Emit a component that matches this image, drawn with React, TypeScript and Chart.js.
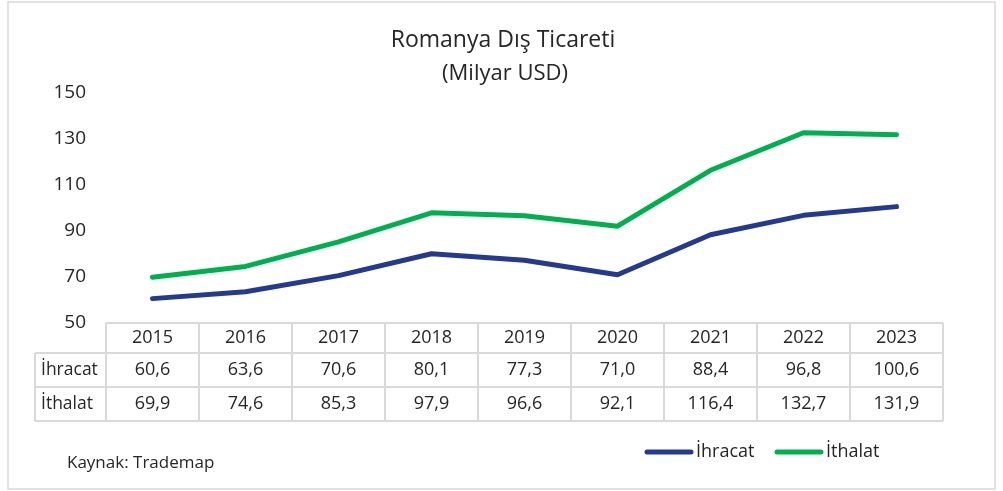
import React, { useEffect, useRef } from "react";
import { Chart, registerables } from "chart.js";

Chart.register(...registerables);

const years = ["2015", "2016", "2017", "2018", "2019", "2020", "2021", "2022", "2023"];
const ihracat = [60.6, 63.6, 70.6, 80.1, 77.3, 71.0, 88.4, 96.8, 100.6];
const ithalat = [69.9, 74.6, 85.3, 97.9, 96.6, 92.1, 116.4, 132.7, 131.9];
const seriesNames = ["İhracat", "İthalat"];
const seriesColors = ["#25398F", "#00B04F"];
const titleText = "Romanya Dış Ticareti";
const subtitleText = "(Milyar USD)";
const sourceText = "Kaynak: Trademap";
const yMin = 50;
const yMax = 150;
const yStep = 20;

const FONT = "'Open Sans', sans-serif";
const TEXT = "#262626";
const GRID = "#D9D9D9";

const fmt = (v: number) => v.toFixed(1).replace(".", ",");

const decorPlugin = {
  id: "decor",
  beforeDraw(chart: any) {
    const ctx = chart.ctx;
    ctx.save();
    ctx.fillStyle = "#ffffff";
    ctx.fillRect(0, 0, chart.width, chart.height);
    ctx.strokeStyle = GRID;
    ctx.lineWidth = 1.5;
    ctx.strokeRect(8, 2, 987, 487);
    ctx.restore();
  },
  afterDraw(chart: any) {
    const ctx = chart.ctx;
    const xs = chart.scales.x;
    const area = chart.chartArea;
    ctx.save();
    // title
    ctx.fillStyle = TEXT;
    ctx.textAlign = "center";
    ctx.textBaseline = "alphabetic";
    ctx.font = `23px ${FONT}`;
    ctx.fillText(titleText, 503, 47);
    ctx.font = `22px ${FONT}`;
    ctx.fillText(subtitleText, 505, 80);

    // table
    const colW = (area.right - area.left) / years.length;
    const rows = [area.bottom, 353, 387, 421];
    const headLeft = 35;
    ctx.strokeStyle = GRID;
    ctx.lineWidth = 2;
    ctx.beginPath();
    ctx.moveTo(area.left, rows[0]);
    ctx.lineTo(area.right, rows[0]);
    for (let i = 1; i < rows.length; i++) {
      ctx.moveTo(headLeft, rows[i]);
      ctx.lineTo(area.right, rows[i]);
    }
    ctx.moveTo(headLeft, rows[1]);
    ctx.lineTo(headLeft, rows[3]);
    for (let i = 0; i <= years.length; i++) {
      const x = area.left + i * colW;
      ctx.moveTo(x, rows[0]);
      ctx.lineTo(x, rows[3]);
    }
    ctx.stroke();

    ctx.fillStyle = TEXT;
    ctx.font = `18px ${FONT}`;
    ctx.textBaseline = "middle";
    ctx.textAlign = "center";
    const data = [ihracat, ithalat];
    years.forEach((y, i) => {
      const cx = xs.getPixelForValue(i);
      ctx.fillText(y, cx, (rows[0] + rows[1]) / 2);
      ctx.fillText(fmt(data[0][i]), cx, (rows[1] + rows[2]) / 2);
      ctx.fillText(fmt(data[1][i]), cx, (rows[2] + rows[3]) / 2);
    });
    ctx.textAlign = "left";
    ctx.font = `17.5px ${FONT}`;
    ctx.fillText(seriesNames[0], 41, (rows[1] + rows[2]) / 2);
    ctx.fillText(seriesNames[1], 41, (rows[2] + rows[3]) / 2);

    // source
    ctx.font = `17px ${FONT}`;
    ctx.textBaseline = "alphabetic";
    ctx.fillText(sourceText, 67, 468);

    // legend
    const legendY = 452;
    const legendX = [645, 775];
    ctx.font = `18px ${FONT}`;
    seriesNames.forEach((name, i) => {
      ctx.strokeStyle = seriesColors[i];
      ctx.lineWidth = 5;
      ctx.lineCap = "round";
      ctx.beginPath();
      ctx.moveTo(legendX[i] + 2, legendY);
      ctx.lineTo(legendX[i] + 46, legendY);
      ctx.stroke();
      ctx.fillStyle = TEXT;
      ctx.textBaseline = "middle";
      ctx.textAlign = "left";
      ctx.fillText(name, legendX[i] + 51, legendY);
    });
    ctx.restore();
  },
};

export default function App() {
  const ref = useRef<HTMLCanvasElement | null>(null);
  useEffect(() => {
    if (!ref.current) return;
    const chart = new Chart(ref.current, {
      type: "line",
      data: {
        labels: years,
        datasets: [
          {
            label: seriesNames[0],
            data: ihracat,
            borderColor: seriesColors[0],
            backgroundColor: seriesColors[0],
            borderWidth: 5,
            pointRadius: 0,
            tension: 0,
            borderCapStyle: "round",
            borderJoinStyle: "round",
          },
          {
            label: seriesNames[1],
            data: ithalat,
            borderColor: seriesColors[1],
            backgroundColor: seriesColors[1],
            borderWidth: 5,
            pointRadius: 0,
            tension: 0,
            borderCapStyle: "round",
            borderJoinStyle: "round",
          },
        ],
      },
      options: {
        responsive: false,
        animation: false,
        layout: { padding: { left: 8, right: 60, top: 93, bottom: 168 } },
        plugins: {
          legend: { display: false },
          title: { display: false },
          tooltip: { enabled: false },
        },
        scales: {
          x: {
            type: "category",
            offset: true,
            display: false,
          },
          y: {
            min: yMin,
            max: yMax,
            grid: { display: false, drawTicks: false },
            border: { display: false },
            ticks: {
              stepSize: yStep,
              padding: 20,
              color: TEXT,
              font: { family: FONT, size: 19 },
            },
            afterFit: (scale: any) => {
              scale.width = 98;
            },
          },
        },
      },
      plugins: [decorPlugin],
    });
    return () => chart.destroy();
  }, []);
  return (
    <div style={{ position: "absolute", left: 0, top: 0, width: 1003, height: 491 }}>
      <canvas ref={ref} width={1003} height={491} style={{ display: "block" }} />
    </div>
  );
}
